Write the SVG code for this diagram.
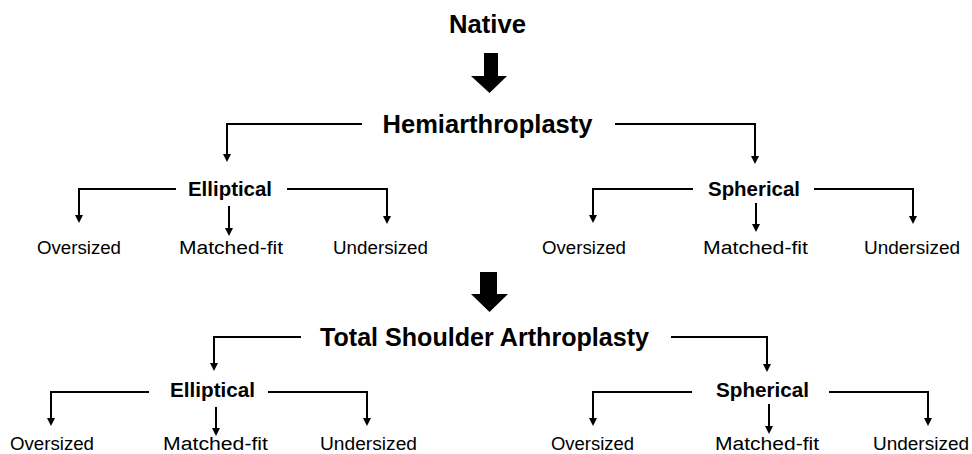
<svg xmlns="http://www.w3.org/2000/svg" width="972" height="454" viewBox="0 0 972 454">
<defs>
<style>
text{font-family:"Liberation Sans",Arial,sans-serif;fill:#000;text-anchor:middle}
.l1{font-size:26px;font-weight:bold}
.l2{font-size:20px;font-weight:bold}
.l3{font-size:18px}
.c{fill:none;stroke:#000;stroke-width:2}
</style>
<marker id="ah" markerUnits="userSpaceOnUse" markerWidth="10" markerHeight="10" refX="2" refY="4" orient="auto">
<path d="M0,0 L8,4 L0,8 z" fill="#000"/>
</marker>
</defs>
<rect width="972" height="454" fill="#fff"/>

<g id="connectors">
<path d="M484,53 H498 V76 H507 L489.5,93 L471,76 H484 Z" fill="#000"/>
<path d="M480,272 H497 V294 H508 L489.5,312 L471,294 H480 Z" fill="#000"/>

<path class="c" d="M362,124 H227 V156" marker-end="url(#ah)"/>
<path class="c" d="M615,124 H755 V158" marker-end="url(#ah)"/>

<path class="c" d="M176,189 H79 V217" marker-end="url(#ah)"/>
<path class="c" d="M229,206 V230" marker-end="url(#ah)"/>
<path class="c" d="M287,189 H387 V218" marker-end="url(#ah)"/>

<path class="c" d="M693,189 H593 V217" marker-end="url(#ah)"/>
<path class="c" d="M756,203 V226" marker-end="url(#ah)"/>
<path class="c" d="M814,189 H913 V218" marker-end="url(#ah)"/>

<path class="c" d="M301,337 H214 V365" marker-end="url(#ah)"/>
<path class="c" d="M671,337 H767 V366" marker-end="url(#ah)"/>

<path class="c" d="M149,392 H51 V420" marker-end="url(#ah)"/>
<path class="c" d="M216,407 V430" marker-end="url(#ah)"/>
<path class="c" d="M268,392 H367 V420" marker-end="url(#ah)"/>

<path class="c" d="M692,392 H593 V420" marker-end="url(#ah)"/>
<path class="c" d="M769,404 V428" marker-end="url(#ah)"/>
<path class="c" d="M829,392 H928 V420" marker-end="url(#ah)"/>
</g>

<g id="native"><text class="l1" x="487.5" y="33" textLength="77" lengthAdjust="spacingAndGlyphs">Native</text></g>
<g id="hemi"><text class="l1" x="487.5" y="133" textLength="210" lengthAdjust="spacingAndGlyphs">Hemiarthroplasty</text></g>

<g id="hemi-elliptical"><text class="l2" x="230" y="196" textLength="84" lengthAdjust="spacingAndGlyphs">Elliptical</text></g>
<g id="hemi-ell-over"><text class="l3" x="79" y="254" textLength="84" lengthAdjust="spacingAndGlyphs">Oversized</text></g>
<g id="hemi-ell-match"><text class="l3" x="231" y="254" textLength="104" lengthAdjust="spacingAndGlyphs">Matched-fit</text></g>
<g id="hemi-ell-under"><text class="l3" x="380.5" y="254" textLength="95" lengthAdjust="spacingAndGlyphs">Undersized</text></g>

<g id="hemi-spherical"><text class="l2" x="754" y="196" textLength="92" lengthAdjust="spacingAndGlyphs">Spherical</text></g>
<g id="hemi-sph-over"><text class="l3" x="584" y="254" textLength="84" lengthAdjust="spacingAndGlyphs">Oversized</text></g>
<g id="hemi-sph-match"><text class="l3" x="755.5" y="254" textLength="105" lengthAdjust="spacingAndGlyphs">Matched-fit</text></g>
<g id="hemi-sph-under"><text class="l3" x="912" y="254" textLength="96" lengthAdjust="spacingAndGlyphs">Undersized</text></g>

<g id="tsa"><text class="l1" x="484.5" y="346" textLength="329" lengthAdjust="spacingAndGlyphs">Total Shoulder Arthroplasty</text></g>

<g id="tsa-elliptical"><text class="l2" x="212.5" y="397" textLength="85" lengthAdjust="spacingAndGlyphs">Elliptical</text></g>
<g id="tsa-ell-over"><text class="l3" x="52" y="450" textLength="84" lengthAdjust="spacingAndGlyphs">Oversized</text></g>
<g id="tsa-ell-match"><text class="l3" x="215.5" y="450" textLength="105" lengthAdjust="spacingAndGlyphs">Matched-fit</text></g>
<g id="tsa-ell-under"><text class="l3" x="368.5" y="450" textLength="97" lengthAdjust="spacingAndGlyphs">Undersized</text></g>

<g id="tsa-spherical"><text class="l2" x="762.5" y="397" textLength="93" lengthAdjust="spacingAndGlyphs">Spherical</text></g>
<g id="tsa-sph-over"><text class="l3" x="592.5" y="450" textLength="83" lengthAdjust="spacingAndGlyphs">Oversized</text></g>
<g id="tsa-sph-match"><text class="l3" x="767" y="450" textLength="104" lengthAdjust="spacingAndGlyphs">Matched-fit</text></g>
<g id="tsa-sph-under"><text class="l3" x="921" y="450" textLength="96" lengthAdjust="spacingAndGlyphs">Undersized</text></g>
</svg>
